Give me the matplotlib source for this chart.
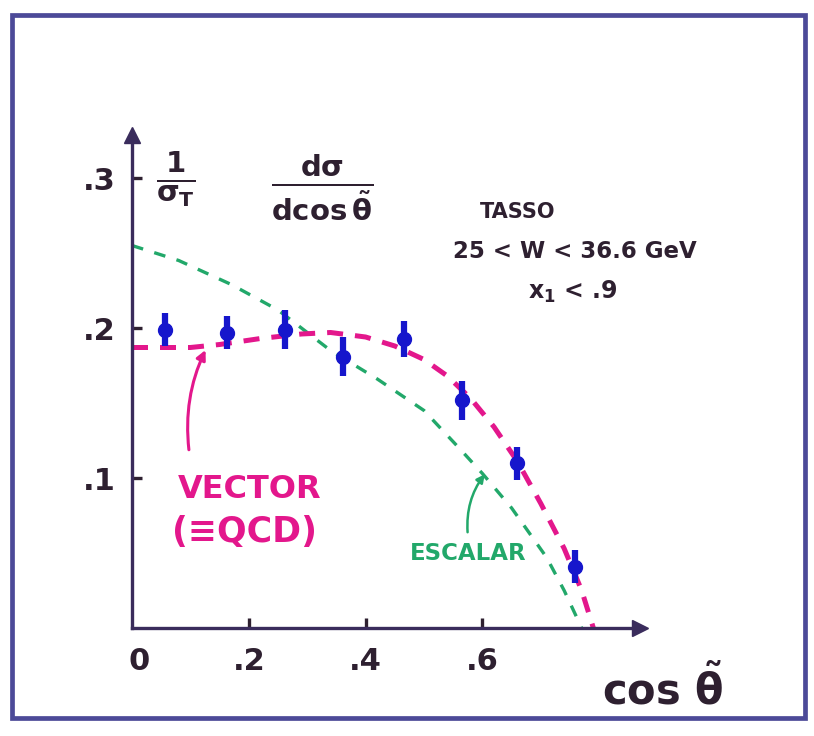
import matplotlib

matplotlib.use("Agg")
import matplotlib.pyplot as plt
from matplotlib.patches import Rectangle

plt.rcParams["font.family"] = ["DejaVu Sans"]
plt.rcParams["font.weight"] = "bold"
plt.rcParams["mathtext.fontset"] = "custom"
plt.rcParams["mathtext.rm"] = "DejaVu Sans:bold"
plt.rcParams["mathtext.it"] = "DejaVu Sans:bold"
plt.rcParams["mathtext.bf"] = "DejaVu Sans:bold"

INK = "#2e2030"
AXIS = "#3a2c5c"
MAGENTA = "#e3178c"
GREEN = "#22a86a"
BLUE = "#1616cc"
FRAME = "#4c4a98"

# TASSO measurement, 1/sigma_T dsigma/dcos(theta~)
cos_theta = [0.057, 0.163, 0.262, 0.362, 0.465, 0.565, 0.660, 0.758]
dsig = [0.199, 0.197, 0.199, 0.181, 0.193, 0.152, 0.110, 0.041]
dsig_err = [0.011, 0.011, 0.013, 0.013, 0.012, 0.013, 0.011, 0.011]

# vector gluon (QCD) prediction
vector_x = [0.00, 0.10, 0.15, 0.22, 0.29, 0.34, 0.40, 0.45, 0.50, 0.54,
            0.58, 0.62, 0.66, 0.70, 0.74, 0.77, 0.79]
vector_y = [0.187, 0.187, 0.189, 0.193, 0.196, 0.197, 0.194, 0.188, 0.179, 0.168,
            0.153, 0.134, 0.111, 0.083, 0.053, 0.025, 0.0]

# scalar gluon prediction
scalar_x = [0.00, 0.08, 0.17, 0.25, 0.29, 0.34, 0.42, 0.50, 0.56, 0.60,
            0.65, 0.71, 0.74, 0.77]
scalar_y = [0.255, 0.245, 0.229, 0.212, 0.200, 0.185, 0.166, 0.145, 0.120, 0.103,
            0.080, 0.047, 0.025, 0.0]

x_ticks = [0.2, 0.4, 0.6]
x_tick_labels = [".2", ".4", ".6"]
y_ticks = [0.1, 0.2, 0.3]
y_tick_labels = [".1", ".2", ".3"]

W, H = 814, 736
fig = plt.figure(figsize=(W / 100, H / 100), dpi=100)
fig.patch.set_facecolor("white")

# axes fill the whole figure; origin sits at pixel (132, 628)
x0_px, y0_px = 132, 628
sx, sy = 584.0, 1500.0
ax = fig.add_axes([0, 0, 1, 1])
ax.set_xlim(-x0_px / sx, (W - x0_px) / sx)
ax.set_ylim((y0_px - H) / sy, y0_px / sy)
ax.patch.set_alpha(0)

for side in ("top", "right"):
    ax.spines[side].set_visible(False)
ax.spines["left"].set_position(("data", 0))
ax.spines["bottom"].set_position(("data", 0))
ax.spines["left"].set_bounds(0, 0.322)
ax.spines["bottom"].set_bounds(0, 0.86)
for side in ("left", "bottom"):
    ax.spines[side].set_color(AXIS)
    ax.spines[side].set_linewidth(2.4)
ax.plot(0, 0.329, marker="^", ms=11, color=AXIS, clip_on=False)
ax.plot(0.87, 0, marker=">", ms=11, color=AXIS, clip_on=False)

ax.set_xticks(x_ticks)
ax.set_xticklabels(x_tick_labels)
ax.set_yticks(y_ticks)
ax.set_yticklabels(y_tick_labels)
ax.tick_params(direction="in", length=7, width=2.4, color=INK,
               labelsize=22, labelcolor=INK)
ax.tick_params(axis="x", pad=14)
ax.tick_params(axis="y", pad=12)
ax.text(0.012, -0.013, "0", ha="center", va="top", fontsize=22, color=INK)

# theory curves
ax.plot(scalar_x, scalar_y, color=GREEN, lw=2.4, dashes=(3.5, 3.5))
ax.plot(vector_x, vector_y, color=MAGENTA, lw=3.6, dashes=(3.2, 2.4))

# data
ax.errorbar(cos_theta, dsig, yerr=dsig_err, fmt="o", ms=10, color=BLUE,
            ecolor=BLUE, elinewidth=4.5, capsize=0, zorder=5)

# axis titles
ax.text(0.075, 0.299, r"$\frac{1}{\sigma_T}$", ha="center", va="center",
        fontsize=30, color=INK)
ax.text(0.325, 0.294, r"$\frac{d\sigma}{d\cos\tilde{\theta}}$", ha="center",
        va="center", fontsize=30, color=INK)
ax.text(0.908, -0.041, r"$\cos\,\tilde{\theta}$", ha="center", va="center",
        fontsize=30, color=INK)

# experiment info
ax.text(0.661, 0.277, "TASSO", ha="center", va="center", fontsize=15, color=INK)
ax.text(0.759, 0.251, "25 < W < 36.6 GeV", ha="center", va="center",
        fontsize=16.5, color=INK)
ax.text(0.755, 0.224, r"x$_1$ < .9", ha="center", va="center",
        fontsize=17, color=INK)

# curve labels
ax.text(0.202, 0.092, "VECTOR", ha="center", va="center", fontsize=23,
        color=MAGENTA)
ax.text(0.193, 0.064, "(≡QCD)", ha="center", va="center", fontsize=25,
        color=MAGENTA)
ax.annotate("", xy=(0.128, 0.187), xytext=(0.098, 0.117),
            arrowprops=dict(arrowstyle="-|>", color=MAGENTA, lw=2.2,
                            mutation_scale=14,
                            connectionstyle="arc3,rad=-0.15"))
ax.text(0.575, 0.050, "ESCALAR", ha="center", va="center", fontsize=16.5,
        color=GREEN)
ax.annotate("", xy=(0.607, 0.104), xytext=(0.575, 0.062),
            arrowprops=dict(arrowstyle="-|>", color=GREEN, lw=1.8,
                            mutation_scale=12,
                            connectionstyle="arc3,rad=-0.2"))

# outer frame
fig.patches.append(Rectangle((12 / W, (H - 718) / H), (805 - 12) / W,
                             (718 - 15) / H, transform=fig.transFigure,
                             fill=False, lw=3.4, edgecolor=FRAME))

fig.savefig("out.png", dpi=100, facecolor="white")
